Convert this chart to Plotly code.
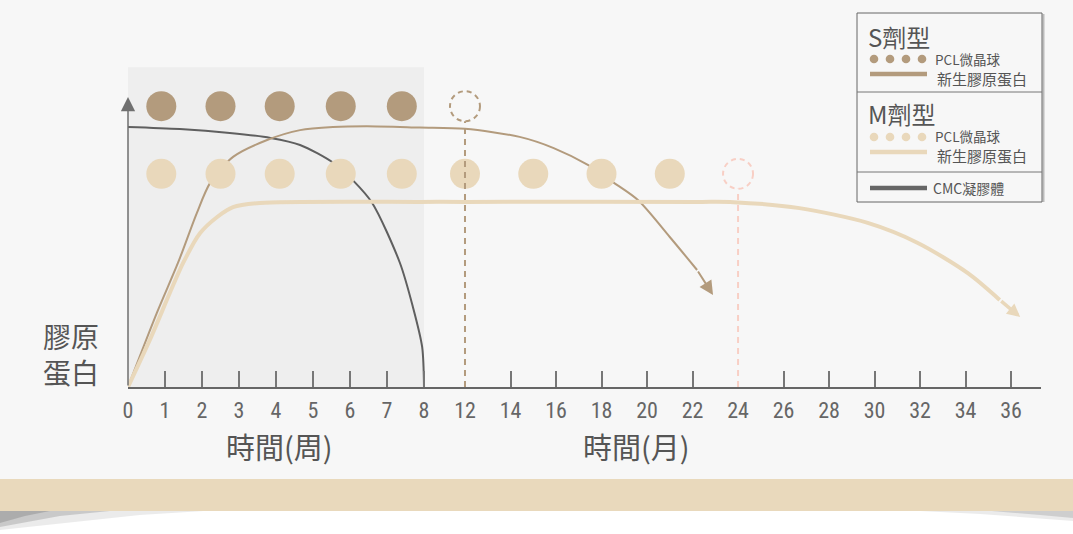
import plotly.graph_objects as go

W, H = 1073, 534

# ---------------- data ----------------
week_ticks = [0, 1, 2, 3, 4, 5, 6, 7, 8]
month_ticks = [12, 14, 16, 18, 20, 22, 24, 26, 28, 30, 32, 34, 36]

# PCL microspheres (S / M dosage forms)
s_sphere_weeks = [0.9, 2.5, 4.1, 5.75, 7.4]
s_sphere_gone_month = 12
s_sphere_level = 108
m_sphere_weeks = [0.9, 2.5, 4.1, 5.75, 7.4]
m_sphere_months = [12, 15, 18, 21]
m_sphere_gone_month = 24
m_sphere_level = 82

# CMC gel (weeks)
cmc_weeks = [0, 1.4, 2.75, 3.85, 4.65, 5.55, 6.1, 6.6, 7.35, 7.7, 7.95, 8.0]
cmc_vals = [100, 99.2, 97.7, 95.8, 93.1, 86.2, 79.2, 70.8, 47.7, 30.8, 15.4, 0]

# S form new collagen (weeks part, then months part; last point = arrow tip)
s_col_weeks = [0, 0.78, 1.35, 1.86, 2.22, 2.84, 3.76, 4.65, 5.54, 6.46, 7.89]
s_col_week_vals = [0, 28.5, 47.7, 66.9, 78.5, 88.5, 95.0, 98.8, 100, 100.3, 99.8]
s_col_months = [12, 14.4, 15.9, 17.4, 18.5, 19.6, 21.0, 22.2, 22.9]
s_col_month_vals = [99.3, 96.2, 91.9, 85.4, 78.8, 71.9, 57.7, 45.0, 35.4]

# M form new collagen
m_col_weeks = [0, 0.59, 1.49, 1.95, 2.41, 2.84, 3.57, 7.9]
m_col_week_vals = [0, 18.1, 47.7, 59.2, 65.4, 69.2, 70.8, 71.2]
m_col_months = [12, 22.3, 23.8, 26.7, 29.7, 31.9, 34.1, 35.5, 36.4]
m_col_month_vals = [71.2, 71.2, 71.1, 68.8, 63.1, 55.4, 43.8, 33.5, 26.9]

# ---------------- styles ----------------
BG = "#f7f7f7"
SHADE = "#eeeeee"
BROWN = "#b39b7d"
BEIGE = "#e9d8bb"
DARK = "#5f5f5f"
PINK = "#f8cfc5"
AXIS = "#666666"
TXT = "#555555"
FONT = "Noto Sans CJK TC"
NUMFONT = "Liberation Sans Narrow, Roboto Condensed, Noto Sans CJK TC"

# ---------------- broken time scale ----------------
MONTH12_POS = 9.108   # axis position of month 12 (1 unit = 1 week)
MONTH_UNIT = 0.615    # axis units per month


def wpos(w):
    return w


def mpos(m):
    return MONTH12_POS + (m - 12) * MONTH_UNIT


# plot area in page pixels
PL, PR, PT, PB = 128, 1041, 0, 387


def px(x):
    return (x - PL) / (PR - PL)


def py(y):
    return (PB - y) / (PB - PT)


X_MAX = 24.676
Y_MAX = 148.85

fig = go.Figure()

# CMC gel
fig.add_trace(go.Scatter(x=[wpos(w) for w in cmc_weeks], y=cmc_vals, mode="lines",
                         line=dict(color=DARK, width=2, shape="spline", smoothing=0.8),
                         hoverinfo="skip", showlegend=False))

# S collagen
s_x = [wpos(w) for w in s_col_weeks] + [mpos(m) for m in s_col_months]
s_y = s_col_week_vals + s_col_month_vals
fig.add_trace(go.Scatter(x=s_x[:-1], y=s_y[:-1], mode="lines",
                         line=dict(color=BROWN, width=2, shape="spline", smoothing=0.8),
                         hoverinfo="skip", showlegend=False))

# M collagen
m_x = [wpos(w) for w in m_col_weeks] + [mpos(m) for m in m_col_months]
m_y = m_col_week_vals + m_col_month_vals
fig.add_trace(go.Scatter(x=m_x[:-1], y=m_y[:-1], mode="lines",
                         line=dict(color=BEIGE, width=4, shape="spline", smoothing=0.8),
                         hoverinfo="skip", showlegend=False))

# microspheres
fig.add_trace(go.Scatter(x=[wpos(w) for w in m_sphere_weeks] + [mpos(m) for m in m_sphere_months],
                         y=[m_sphere_level] * (len(m_sphere_weeks) + len(m_sphere_months)),
                         mode="markers", marker=dict(size=30, color=BEIGE, line=dict(width=0)),
                         hoverinfo="skip", showlegend=False))
fig.add_trace(go.Scatter(x=[wpos(w) for w in s_sphere_weeks], y=[s_sphere_level] * len(s_sphere_weeks),
                         mode="markers", marker=dict(size=30, color=BROWN, line=dict(width=0)),
                         hoverinfo="skip", showlegend=False))

# invisible trace for tick overlay axis
fig.add_trace(go.Scatter(x=[0], y=[0], xaxis="x2", mode="markers", marker=dict(opacity=0),
                         hoverinfo="skip", showlegend=False))

shapes = []
# page background + bottom band + shadow
shapes.append(dict(type="rect", xref="paper", yref="paper", x0=px(0), x1=px(W), y0=py(479), y1=py(0),
                   fillcolor=BG, line=dict(width=0), layer="below"))


def pth(points):
    return "M " + " L ".join(f"{px(a):.5f},{py(b):.5f}" for a, b in points) + " Z"


for pts, op in [([(0, 505), (300, 505), (140, 515), (0, 530)], 0.08),
                ([(0, 505), (170, 505), (60, 516), (0, 527)], 0.14),
                ([(0, 505), (80, 505), (25, 516), (0, 523)], 0.14),
                ([(1073, 505), (800, 505), (980, 514), (1073, 521)], 0.08),
                ([(1073, 505), (920, 505), (1040, 515), (1073, 518)], 0.12)]:
    shapes.append(dict(type="path", xref="paper", yref="paper", path=pth(pts),
                       fillcolor=f"rgba(0,0,0,{op})", line=dict(width=0), layer="below"))
shapes.append(dict(type="rect", xref="paper", yref="paper", x0=px(0), x1=px(W), y0=py(511), y1=py(479),
                   fillcolor="#e9d9bc", line=dict(width=0), layer="below"))

# shaded first 8 weeks
shapes.append(dict(type="rect", xref="x", yref="y", x0=wpos(0), x1=wpos(8), y0=0, y1=123,
                   fillcolor=SHADE, line=dict(width=0), layer="below"))

# dashed vertical lines + dashed circles (spheres gone)
RX, RY = 15 / 37, 15 / 2.6
for mth, lvl, col in [(s_sphere_gone_month, s_sphere_level, BROWN), (m_sphere_gone_month, m_sphere_level, PINK)]:
    xc = mpos(mth)
    shapes.append(dict(type="line", xref="x", yref="y", x0=xc, x1=xc, y0=0, y1=lvl - RY,
                       line=dict(color=col, width=2, dash="6px,5px")))
    shapes.append(dict(type="circle", xref="x", yref="y", x0=xc - RX, x1=xc + RX,
                       y0=lvl - RY, y1=lvl + RY, line=dict(color=col, width=2, dash="5px,4px")))

# legend box
LX0, LX1, LY0, LY1 = 857, 1042, 13, 202
shapes.append(dict(type="line", xref="paper", yref="paper", x0=px(LX1 + 1.5), x1=px(LX1 + 1.5),
                   y0=py(LY1), y1=py(LY0 + 1), line=dict(color="#bbbbbb", width=2)))
shapes.append(dict(type="rect", xref="paper", yref="paper", x0=px(LX0), x1=px(LX1), y0=py(LY1), y1=py(LY0),
                   line=dict(color="#666666", width=1), fillcolor=BG))
for yy in (92, 172):
    shapes.append(dict(type="line", xref="paper", yref="paper", x0=px(LX0), x1=px(LX1), y0=py(yy), y1=py(yy),
                       line=dict(color="#777777", width=1)))
for dy, col in [(59, BROWN), (137, BEIGE)]:
    for cx in (874, 890, 906, 922):
        shapes.append(dict(type="circle", xref="paper", yref="paper", x0=px(cx - 4.3), x1=px(cx + 4.3),
                           y0=py(dy + 4.3), y1=py(dy - 4.3), fillcolor=col, line=dict(width=0)))
for ly, col in [(74, BROWN), (152, BEIGE), (188, "#666666")]:
    shapes.append(dict(type="line", xref="paper", yref="paper", x0=px(870), x1=px(927), y0=py(ly), y1=py(ly),
                       line=dict(color=col, width=4.5)))

annotations = []


def txt(x, y, s, size, anchor="left", color=TXT, family=FONT):
    annotations.append(dict(xref="paper", yref="paper", x=px(x), y=py(y), text=s, showarrow=False,
                            xanchor=anchor, yanchor="middle", font=dict(family=family, size=size, color=color)))


txt(866, 36, "S劑型", 24)
txt(933, 58.5, "PCL微晶球", 13.5)
txt(935, 78, "新生膠原蛋白", 15)
txt(866, 113, "M劑型", 24)
txt(933, 136.5, "PCL微晶球", 13.5)
txt(935, 155, "新生膠原蛋白", 15)
txt(931, 188, "CMC凝膠體", 14)

# axis titles
txt(279, 446, "時間(周)", 29, anchor="center")
txt(636, 446, "時間(月)", 29, anchor="center")
txt(71, 354, "膠原<br>蛋白", 28, anchor="center")

# y-axis arrow
annotations.append(dict(xref="x", yref="y", axref="x", ayref="y", x=0, y=111.5, ax=0, ay=0, text="",
                        showarrow=True, arrowhead=2, arrowsize=1.9, arrowwidth=1.5, arrowcolor="#707070",
                        standoff=0))
# curve arrowheads
annotations.append(dict(xref="x", yref="y", axref="x", ayref="y", x=s_x[-1], y=s_y[-1], ax=s_x[-2], ay=s_y[-2],
                        text="", showarrow=True, arrowhead=2, arrowsize=1.4, arrowwidth=2, arrowcolor=BROWN,
                        standoff=0))
annotations.append(dict(xref="x", yref="y", axref="x", ayref="y", x=m_x[-1], y=m_y[-1], ax=m_x[-2], ay=m_y[-2],
                        text="", showarrow=True, arrowhead=2, arrowsize=0.75, arrowwidth=3.5, arrowcolor=BEIGE,
                        standoff=0))

tick_pos = [wpos(w) for w in week_ticks] + [mpos(m) for m in month_ticks]
tick_txt = [str(w) for w in week_ticks] + [str(m) for m in month_ticks]
mark_pos = [wpos(w) for w in week_ticks[1:]] + [mpos(m) for m in month_ticks if m not in (12, 24)]

fig.update_layout(
    width=W, height=H,
    margin=dict(l=PL, r=W - PR, t=PT, b=H - PB),
    paper_bgcolor="#ffffff", plot_bgcolor="rgba(0,0,0,0)",
    showlegend=False,
    shapes=shapes, annotations=annotations,
    xaxis=dict(range=[0, X_MAX], tickmode="array", tickvals=tick_pos, ticktext=tick_txt,
               showgrid=False, zeroline=False, showline=True, linecolor=AXIS, linewidth=1.5,
               ticks="", tickfont=dict(family=NUMFONT, size=22, color="#666666"), ticklabelstandoff=3,
               fixedrange=True),
    xaxis2=dict(overlaying="x", matches="x", range=[0, X_MAX], side="bottom", tickmode="array",
                tickvals=mark_pos, ticks="inside", ticklen=16, tickwidth=1.5, tickcolor="#777777",
                showticklabels=False, showgrid=False, zeroline=False, showline=False),
    yaxis=dict(range=[0, Y_MAX], visible=False, fixedrange=True),
)

fig.write_html("out.html", config={"displayModeBar": False},
               post_script="document.body.style.margin='0';")
